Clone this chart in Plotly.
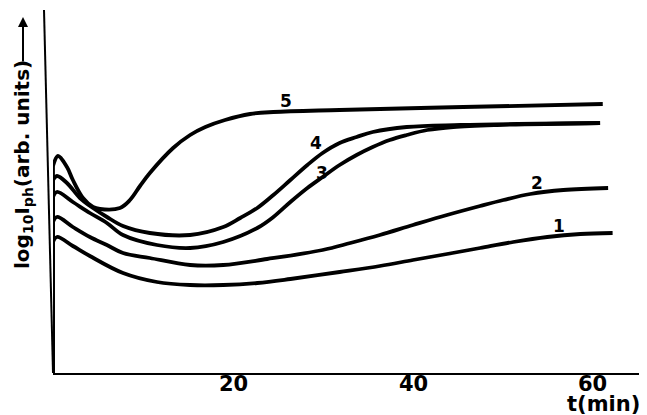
import plotly.graph_objects as go

# ---- data (t in minutes, y = log10 Iph in arbitrary units) ----
t5 = [-0.22, 0.34, 1.34, 2.0, 3.13, 4.25, 5.03, 7.26, 8.38, 9.5, 10.6, 13.2, 15.1, 16.8, 19.0, 21.8, 24.4, 31.8, 45.6, 61.2]
y5 = [20.7, 21.7, 20.6, 19.3, 17.5, 16.6, 16.4, 16.5, 17.3, 18.7, 20.0, 22.5, 23.8, 24.6, 25.3, 25.9, 26.1, 26.3, 26.6, 26.9]

t4 = [-0.22, 0.22, 1.34, 2.79, 4.25, 5.81, 7.6, 10.6, 15.1, 18.8, 20.7, 22.6, 24.4, 26.3, 28.2, 29.9, 31.8, 33.7, 35.5, 39.3, 45.3, 60.9]
y4 = [19.3, 19.7, 19.0, 17.5, 16.5, 15.6, 14.7, 14.0, 13.8, 14.6, 15.5, 16.5, 17.8, 19.3, 20.8, 22.0, 23.0, 23.6, 24.1, 24.6, 24.8, 25.0]

t3 = [-0.22, 0.22, 2.0, 3.9, 5.8, 7.6, 11.4, 15.1, 18.8, 22.6, 24.4, 26.3, 28.2, 29.9, 31.8, 33.7, 35.5, 37.4, 39.3, 41.6, 44.5, 49.4, 60.9]
y3 = [17.6, 18.1, 17.1, 16.0, 15.0, 13.8, 12.8, 12.5, 13.1, 14.5, 15.6, 17.1, 18.5, 19.6, 20.8, 21.8, 22.6, 23.3, 23.8, 24.3, 24.6, 24.8, 25.0]

t2 = [-0.22, 0.22, 2.0, 3.9, 5.8, 7.6, 10.6, 15.1, 18.8, 23.7, 29.9, 33.0, 36.3, 40.0, 43.8, 47.5, 50.1, 53.1, 56.8, 61.8]
y2 = [15.1, 15.6, 14.6, 13.6, 12.8, 12.0, 11.5, 10.8, 10.8, 11.4, 12.3, 13.0, 13.8, 14.8, 15.8, 16.7, 17.3, 17.9, 18.3, 18.5]

t1 = [-0.22, 0.22, 2.0, 3.9, 7.6, 11.4, 15.1, 18.8, 22.6, 26.3, 31.8, 36.3, 40.0, 43.8, 47.5, 51.2, 55.0, 58.7, 62.3]
y1 = [13.1, 13.6, 12.7, 11.7, 10.0, 9.1, 8.8, 8.8, 9.0, 9.4, 10.1, 10.7, 11.3, 11.9, 12.5, 13.1, 13.6, 13.9, 14.0]

curve_names = ["1", "2", "3", "4", "5"]
label_t = [56.3, 53.9, 29.8, 29.2, 25.8]
label_y = [14.7, 19.0, 20.0, 23.0, 27.2]

tick_vals = [20, 40, 60]
tick_text = ["20", "40", "60"]

series = [(t1, y1), (t2, y2), (t3, y3), (t4, y4), (t5, y5)]

FONT = "DejaVu Sans"

fig = go.Figure()
for (tt, yy), name in zip(series, curve_names):
    # initial steep rise at switch-on
    fig.add_trace(go.Scatter(x=[tt[0], tt[0]], y=[0, yy[0]], mode="lines",
                             line=dict(color="black", width=3.8), showlegend=False,
                             hoverinfo="skip"))
    fig.add_trace(go.Scatter(x=tt, y=yy, mode="lines", name=name,
                             line=dict(color="black", width=3.8, shape="spline", smoothing=1.0),
                             showlegend=False))

for name, lt, ly in zip(curve_names, label_t, label_y):
    fig.add_annotation(x=lt, y=ly, text="<b>%s</b>" % name, showarrow=False,
                       font=dict(family=FONT, size=17, color="black"))

fig.update_layout(
    width=639, height=407,
    margin=dict(l=45, r=7, t=2, b=42),
    paper_bgcolor="white", plot_bgcolor="white",
    xaxis=dict(range=[-0.22, 65.36], showgrid=False, zeroline=False,
               showline=True, linecolor="black", linewidth=2,
               showticklabels=False, ticks=""),
    yaxis=dict(range=[0, 36.3], showgrid=False, zeroline=False, showline=False,
               showticklabels=False, ticks=""),
)

# x tick labels (placed just below the axis line as in the original)
for tv, tx in zip(tick_vals, tick_text):
    fig.add_annotation(x=tv, xref="x", yref="paper", y=(373 - 384) / 363,
                       text="<b>%s</b>" % tx, showarrow=False,
                       xanchor="center", yanchor="middle",
                       font=dict(family=FONT, size=21, color="black"))

# slightly slanted vertical axis line as in the original drawing
fig.add_shape(type="line", xref="paper", yref="paper", x0=0, y0=0, x1=-9 / 587, y1=1,
              line=dict(color="black", width=2))

# axis titles
fig.add_annotation(xref="paper", yref="paper", x=(603 - 53) / 587, y=(373 - 404) / 363,
                   text="<b>t(min)</b>", showarrow=False, xanchor="center", yanchor="middle",
                   font=dict(family=FONT, size=21, color="black"))
fig.add_annotation(xref="paper", yref="paper", x=(23 - 53) / 587, y=(373 - 165) / 363,
                   text="<b>log<sub>10</sub>I<sub>ph</sub>(arb. units)</b>", textangle=-90,
                   showarrow=False, xanchor="center", yanchor="middle",
                   font=dict(family=FONT, size=20, color="black"))
fig.add_annotation(xref="paper", yref="paper", x=(23 - 53) / 587, y=(373 - 17) / 363,
                   ax=0, ay=46, text="", showarrow=True, arrowhead=2, arrowsize=1,
                   arrowwidth=2, arrowcolor="black")

fig.write_html("out.html")
